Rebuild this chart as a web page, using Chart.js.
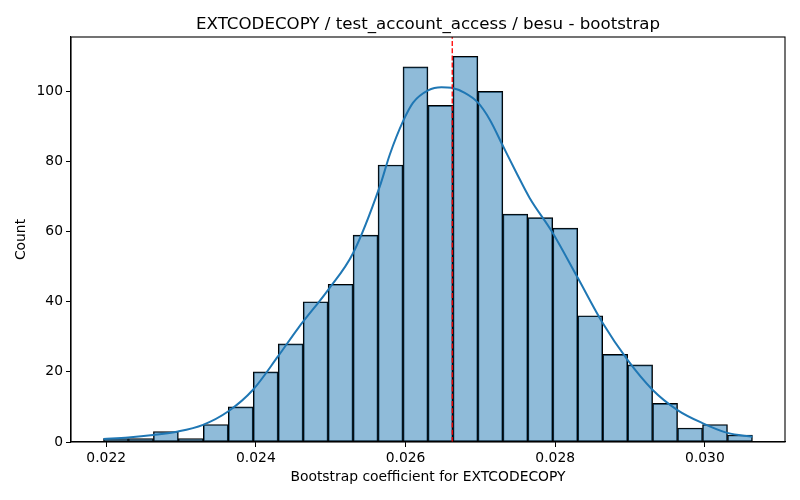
<!DOCTYPE html>
<html>
<head>
<meta charset="utf-8">
<script src="https://cdn.jsdelivr.net/npm/chart.js@4/dist/chart.umd.min.js"></script>
<style>
  html, body { margin: 0; padding: 0; background: #ffffff; }
  #wrap { width: 800px; height: 500px; }
</style>
</head>
<body>
<div id="wrap"><canvas id="c" width="800" height="500"></canvas></div>
<script>
// ---- data ----
const binCenters = [0.0221308, 0.0224643, 0.0227978, 0.0231313, 0.0234648, 0.0237983, 0.0241318, 0.0244653,
  0.0247988, 0.0251323, 0.0254658, 0.0257993, 0.0261328, 0.0264663, 0.0267998, 0.0271333, 0.0274668,
  0.0278003, 0.0281338, 0.0284673, 0.0288008, 0.0291343, 0.0294678, 0.0298013, 0.0301348, 0.0304683];
const binCounts = [1, 1, 3, 1, 5, 10, 20, 28, 40, 45, 59, 79, 107, 96, 110, 100, 65, 64, 61, 36, 25, 22, 11, 4, 5, 2];
const kdeX = [0.021964, 0.022294, 0.022627, 0.022961, 0.023294, 0.023628, 0.023962, 0.024295, 0.024566,
  0.024966, 0.025300, 0.025656, 0.025790, 0.025967, 0.026101, 0.026301, 0.026480, 0.026613, 0.026791,
  0.026968, 0.027124, 0.027302, 0.027481, 0.027658, 0.027965, 0.028299, 0.028632, 0.028966, 0.029299,
  0.029633, 0.029966, 0.030300, 0.030634];
const kdeY = [0.85, 1.3, 2.0, 3.0, 4.9, 8.7, 14.9, 24.4, 32.5, 43.4, 53.9, 72.9, 82, 91.5, 96.8, 100.3,
  101.2, 101.0, 99.6, 96.8, 92, 84.4, 76.8, 69.6, 59.7, 46.9, 34, 23.4, 14.9, 9.1, 5.4, 2.6, 1.5];
const meanValue = 0.026624;
const xTicks = [0.022, 0.024, 0.026, 0.028, 0.030];
const yTicks = [0, 20, 40, 60, 80, 100];
const xRange = [0.021530, 0.031070];
const yRange = [0, 115.5];
const titleText = 'EXTCODECOPY / test_account_access / besu - bootstrap';
const xLabel = 'Bootstrap coefficient for EXTCODECOPY';
const yLabel = 'Count';

// ---- build ----
const barData = binCenters.map((x, i) => ({ x: x, y: binCounts[i] }));
const kdeData = kdeX.map((x, i) => ({ x: x, y: kdeY[i] }));
const meanData = [{ x: meanValue, y: yRange[0] }, { x: meanValue, y: yRange[1] }];

const FONT = 'DejaVu Sans';

const framePlugin = {
  id: 'frame',
  afterDatasetsDraw(chart) {
    const { ctx, chartArea: a } = chart;
    ctx.save();
    ctx.strokeStyle = '#000';
    ctx.lineWidth = 1.1;
    ctx.strokeRect(a.left, a.top, a.right - a.left, a.bottom - a.top);
    ctx.restore();
  },
  afterDraw(chart) {
    const { ctx, chartArea: a } = chart;
    ctx.save();
    ctx.fillStyle = '#000';
    ctx.font = '16.67px "' + FONT + '"';
    ctx.textAlign = 'center';
    ctx.textBaseline = 'alphabetic';
    ctx.fillText(titleText, (a.left + a.right) / 2, 29);
    ctx.restore();
  }
};

new Chart(document.getElementById('c'), {
  type: 'bar',
  data: {
    datasets: [
      {
        type: 'line',
        data: meanData,
        borderColor: '#ff0000',
        borderWidth: 1.3,
        borderDash: [5, 2.2],
        pointRadius: 0,
        fill: false,
        order: 1
      },
      {
        type: 'line',
        data: kdeData,
        borderColor: '#1f77b4',
        borderWidth: 2,
        pointRadius: 0,
        fill: false,
        cubicInterpolationMode: 'monotone',
        order: 2
      },
      {
        type: 'bar',
        data: barData,
        backgroundColor: 'rgba(31,119,180,0.5)',
        borderColor: '#000000',
        borderWidth: 1,
        borderSkipped: false,
        barPercentage: 1.0,
        categoryPercentage: 1.0,
        order: 3
      }
    ]
  },
  options: {
    responsive: false,
    animation: false,
    devicePixelRatio: 1,
    layout: { padding: { left: 0, right: 15, top: 37, bottom: 0 } },
    plugins: {
      legend: { display: false },
      tooltip: { enabled: false },
      title: { display: false }
    },
    scales: {
      x: {
        type: 'linear',
        offset: false,
        min: xRange[0],
        max: xRange[1],
        afterBuildTicks: (s) => { s.ticks = xTicks.map(v => ({ value: v })); },
        afterFit: (s) => { s.height = 58; },
        ticks: {
          color: '#000',
          font: { family: FONT, size: 13.89 },
          padding: 3,
          maxRotation: 0,
          autoSkip: false,
          callback: (v) => Number(v).toFixed(3)
        },
        grid: { display: true, offset: false, drawOnChartArea: false, drawTicks: true, tickLength: 5, tickColor: '#000', tickWidth: 1 },
        border: { display: true, color: '#000', width: 1.1 },
        title: {
          display: true,
          text: xLabel,
          color: '#000',
          font: { family: FONT, size: 13.89, lineHeight: 1.2 },
          padding: { top: 0, bottom: 14 }
        }
      },
      y: {
        type: 'linear',
        min: yRange[0],
        max: yRange[1],
        afterBuildTicks: (s) => { s.ticks = yTicks.map(v => ({ value: v })); },
        afterFit: (s) => { s.width = 71; },
        ticks: {
          color: '#000',
          font: { family: FONT, size: 13.89 },
          padding: 3,
          autoSkip: false
        },
        grid: { display: true, drawOnChartArea: false, drawTicks: true, tickLength: 5, tickColor: '#000', tickWidth: 1 },
        border: { display: true, color: '#000', width: 1.1 },
        title: {
          display: true,
          text: yLabel,
          color: '#000',
          font: { family: FONT, size: 13.89, lineHeight: 1.2 },
          padding: { top: 13, bottom: 0 }
        }
      }
    }
  },
  plugins: [framePlugin]
});
</script>
</body>
</html>
